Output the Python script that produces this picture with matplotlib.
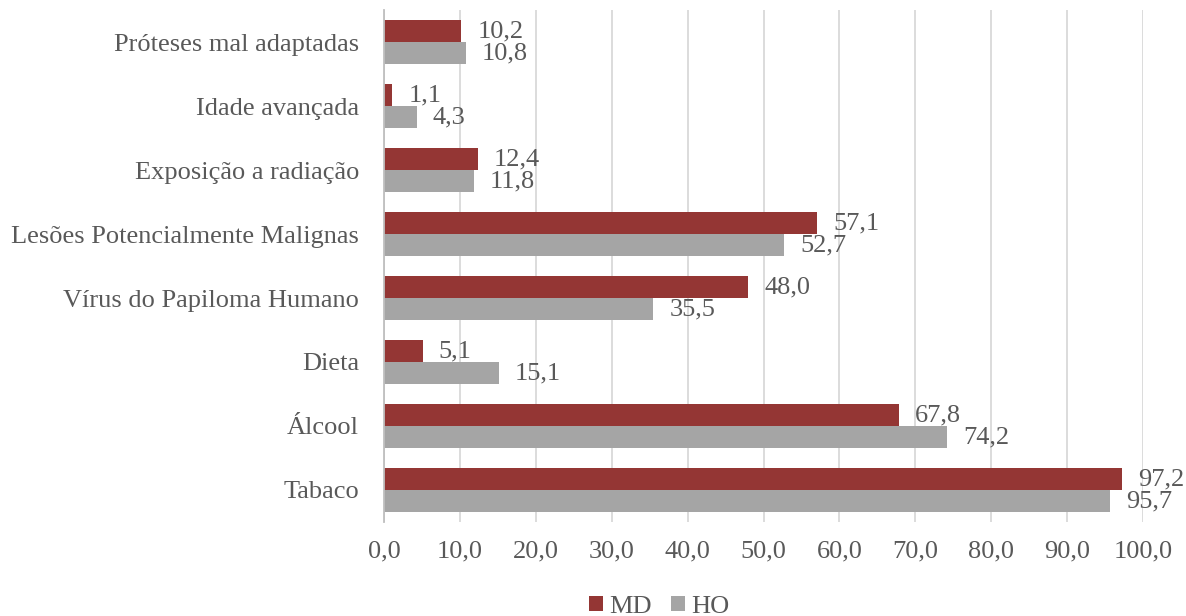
import matplotlib
matplotlib.use("Agg")
import matplotlib.pyplot as plt
import numpy as np

categories = ["Tabaco", "Álcool", "Dieta", "Vírus do Papiloma Humano",
              "Lesões Potencialmente Malignas", "Exposição a radiação",
              "Idade avançada", "Próteses mal adaptadas"]
md_values = [97.2, 67.8, 5.1, 48.0, 57.1, 12.4, 1.1, 10.2]
ho_values = [95.7, 74.2, 15.1, 35.5, 52.7, 11.8, 4.3, 10.8]
series_names = ["MD", "HO"]
xticks = np.arange(0, 101, 10)

plt.rcParams['font.family'] = ['Liberation Serif', 'DejaVu Serif']
text_color = "#595959"
md_color = "#943634"
ho_color = "#A5A5A5"
fs = 19

fig = plt.figure(figsize=(11.86, 6.16), dpi=100)
ax = fig.add_axes([384/1186, 1 - 522/616, (1143-384)/1186, 512/616])

y = np.arange(len(categories))
h = 0.344
b1 = ax.barh(y + h/2, md_values, height=h, color=md_color, label=series_names[0], zorder=3)
b2 = ax.barh(y - h/2, ho_values, height=h, color=ho_color, label=series_names[1], zorder=3)

def fmt(v):
    return f"{v:.1f}".replace(".", ",")

for bars, vals in ((b1, md_values), (b2, ho_values)):
    for rect, v in zip(bars, vals):
        ax.annotate(fmt(v), (rect.get_width(), rect.get_y() + rect.get_height()/2),
                    xytext=(16, 0), textcoords="offset pixels",
                    va="center", ha="left", fontsize=fs, color=text_color, zorder=4)

ax.set_xlim(0, 100)
ax.set_ylim(-0.5, len(categories) - 0.5)
ax.set_xticks(xticks)
ax.set_xticklabels([fmt(t) for t in xticks])
ax.set_yticks(y)
ax.set_yticklabels(categories)
ax.tick_params(axis="both", length=0, labelsize=fs, labelcolor=text_color)
ax.tick_params(axis="x", pad=13)
ax.tick_params(axis="y", pad=18)
ax.grid(axis="x", color="#D9D9D9", linewidth=1.3, zorder=0)
for s in ["top", "right", "bottom"]:
    ax.spines[s].set_visible(False)
ax.spines["left"].set_color("#BFBFBF")
ax.spines["left"].set_linewidth(1.3)
ax.spines["left"].set_zorder(5)

fig.legend(handles=[b1, b2], labels=series_names, loc="lower center",
           bbox_to_anchor=(0.556, -0.042), ncol=2, frameon=False, fontsize=fs,
           labelcolor=text_color, handlelength=0.5, handleheight=0.5,
           handletextpad=0.25, columnspacing=0.75)

fig.savefig("out.png", dpi=100)
